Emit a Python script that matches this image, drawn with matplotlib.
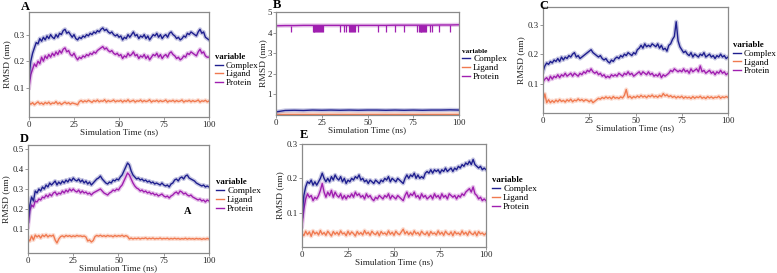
import numpy as np
import matplotlib
matplotlib.use("Agg")
import matplotlib.pyplot as plt
from matplotlib.lines import Line2D

plt.rcParams['font.family'] = ['Liberation Serif', 'DejaVu Serif']

series_names = ["Complex", "Ligand", "Protein"]
colors = {"Complex": "#1f1f8f", "Ligand": "#f07a50", "Protein": "#a01fb0"}
x_ticks = [0, 25, 50, 75, 100]

# ---------------- Panel A ----------------
a_complex = [0.14,0.20,0.23,0.25,0.27,0.265,0.285,0.275,0.29,0.28,0.295,0.285,0.30,0.29,0.285,0.30,0.29,0.305,0.30,0.315,
             0.32,0.305,0.31,0.30,0.29,0.30,0.285,0.28,0.29,0.285,0.295,0.29,0.30,0.295,0.305,0.30,0.31,0.305,0.315,0.31,
             0.32,0.325,0.315,0.32,0.31,0.305,0.31,0.30,0.295,0.30,0.29,0.295,0.28,0.29,0.285,0.30,0.29,0.30,0.31,0.295,
             0.30,0.285,0.295,0.29,0.30,0.285,0.295,0.28,0.29,0.30,0.295,0.305,0.29,0.30,0.285,0.295,0.30,0.29,0.305,0.31,
             0.30,0.295,0.285,0.29,0.28,0.285,0.295,0.29,0.305,0.30,0.31,0.305,0.30,0.295,0.31,0.32,0.305,0.31,0.29,0.285,0.28]
a_protein = [0.10,0.15,0.17,0.19,0.18,0.20,0.19,0.215,0.20,0.22,0.21,0.225,0.215,0.23,0.22,0.235,0.225,0.24,0.23,0.245,
             0.25,0.235,0.24,0.225,0.22,0.23,0.215,0.205,0.215,0.21,0.22,0.215,0.225,0.22,0.23,0.225,0.235,0.23,0.24,0.245,
             0.25,0.255,0.245,0.25,0.24,0.235,0.24,0.23,0.225,0.23,0.22,0.225,0.21,0.22,0.215,0.23,0.22,0.225,0.235,0.22,
             0.225,0.21,0.22,0.215,0.225,0.21,0.22,0.205,0.215,0.225,0.22,0.23,0.215,0.225,0.21,0.22,0.225,0.215,0.23,0.235,
             0.225,0.22,0.21,0.215,0.205,0.21,0.22,0.215,0.23,0.225,0.235,0.23,0.225,0.22,0.235,0.245,0.23,0.235,0.22,0.215,0.215]
a_ligand = [0.045,0.038,0.044,0.036,0.042,0.047,0.039,0.043,0.037,0.045,0.040,0.046,0.038,0.043,0.041,0.048,0.039,0.044,0.037,0.042,
            0.046,0.040,0.044,0.038,0.043,0.041,0.039,0.036,0.048,0.052,0.046,0.051,0.047,0.053,0.049,0.045,0.052,0.048,0.054,0.047,
            0.051,0.049,0.055,0.046,0.052,0.048,0.050,0.054,0.047,0.051,0.049,0.053,0.046,0.052,0.048,0.055,0.047,0.050,0.053,0.046,
            0.051,0.049,0.054,0.047,0.052,0.048,0.050,0.055,0.046,0.051,0.049,0.053,0.047,0.052,0.048,0.050,0.054,0.046,0.051,0.049,
            0.053,0.047,0.052,0.048,0.050,0.054,0.046,0.051,0.049,0.053,0.047,0.052,0.048,0.050,0.054,0.046,0.051,0.049,0.053,0.047,0.050]

# ---------------- Panel B ----------------
b_complex = [0.15,0.22,0.23,0.22,0.24,0.23,0.24,0.23,0.24,0.23,0.24,0.24,0.23,0.24,0.23,0.24,0.23,0.24,0.24,0.25,0.24]
b_ligand = [0.05,0.05,0.05,0.05,0.05,0.05,0.05,0.05,0.05,0.05,0.05,0.05,0.05,0.05,0.05,0.05,0.05,0.05,0.05,0.05,0.05]
b_protein = [4.33,4.34,4.34,4.35,4.35,4.35,4.35,4.35,4.35,4.35,4.35,4.35,4.35,4.36,4.36,4.36,4.36,4.36,4.37,4.37,4.38]
b_protein_dip_times = [8,20,20.5,21,21.5,22,22.5,23,23.5,24,24.5,25,25.5,35,37,38,40,40.5,41,41.5,42,42.5,43,45,
                       56,60,65,70,77,78,78.5,79,79.5,80,80.5,81,81.5,82,84,85,89,95]
b_protein_dip_low = 4.05

# ---------------- Panel C ----------------
c_complex = [0.14,0.16,0.17,0.165,0.175,0.17,0.18,0.175,0.185,0.175,0.19,0.18,0.19,0.185,0.195,0.19,0.2,0.205,0.19,0.195,
             0.185,0.19,0.195,0.2,0.205,0.21,0.215,0.205,0.2,0.195,0.19,0.195,0.185,0.18,0.185,0.175,0.17,0.18,0.175,0.185,
             0.19,0.185,0.195,0.19,0.2,0.195,0.205,0.2,0.195,0.205,0.2,0.215,0.22,0.23,0.22,0.235,0.225,0.23,0.225,0.235,
             0.23,0.225,0.235,0.22,0.23,0.215,0.22,0.21,0.23,0.235,0.25,0.26,0.31,0.245,0.225,0.215,0.205,0.21,0.2,0.195,
             0.205,0.19,0.2,0.195,0.19,0.2,0.195,0.205,0.19,0.195,0.2,0.19,0.195,0.185,0.195,0.19,0.2,0.19,0.195,0.185,0.19]
c_protein = [0.105,0.115,0.12,0.11,0.125,0.115,0.125,0.12,0.13,0.12,0.13,0.125,0.135,0.125,0.13,0.135,0.125,0.135,0.13,0.125,
             0.135,0.13,0.14,0.135,0.145,0.14,0.15,0.14,0.135,0.14,0.13,0.135,0.125,0.13,0.12,0.125,0.12,0.13,0.125,0.13,
             0.125,0.135,0.13,0.125,0.135,0.13,0.14,0.13,0.135,0.125,0.13,0.135,0.14,0.13,0.14,0.135,0.13,0.14,0.13,0.135,
             0.125,0.13,0.125,0.135,0.12,0.13,0.125,0.13,0.135,0.145,0.14,0.15,0.145,0.14,0.145,0.14,0.15,0.14,0.145,0.135,
             0.15,0.14,0.145,0.15,0.14,0.16,0.14,0.145,0.135,0.14,0.145,0.135,0.14,0.13,0.14,0.135,0.145,0.135,0.14,0.13,0.135]
c_ligand = [0.04,0.065,0.035,0.045,0.035,0.042,0.036,0.044,0.038,0.046,0.039,0.043,0.037,0.045,0.04,0.047,0.038,0.044,0.041,0.048,
            0.042,0.046,0.04,0.045,0.043,0.038,0.044,0.035,0.04,0.045,0.05,0.047,0.053,0.049,0.055,0.05,0.054,0.048,0.056,0.05,
            0.053,0.049,0.055,0.051,0.06,0.08,0.052,0.057,0.05,0.056,0.052,0.058,0.053,0.06,0.054,0.058,0.052,0.059,0.055,0.061,
            0.054,0.058,0.053,0.06,0.055,0.066,0.058,0.062,0.055,0.059,0.053,0.057,0.051,0.056,0.052,0.057,0.05,0.055,0.051,0.054,
            0.049,0.056,0.05,0.055,0.052,0.057,0.05,0.054,0.049,0.056,0.051,0.055,0.05,0.054,0.052,0.057,0.05,0.055,0.052,0.056,0.053]

# ---------------- Panel D ----------------
d_complex = [0.14,0.22,0.26,0.24,0.29,0.28,0.3,0.29,0.31,0.3,0.32,0.31,0.33,0.32,0.33,0.34,0.32,0.335,0.325,0.34,
             0.33,0.345,0.335,0.35,0.34,0.355,0.345,0.34,0.35,0.335,0.345,0.33,0.34,0.325,0.335,0.32,0.33,0.34,0.35,0.355,
             0.365,0.35,0.34,0.33,0.325,0.335,0.33,0.345,0.34,0.35,0.345,0.36,0.37,0.39,0.41,0.43,0.42,0.39,0.37,0.36,
             0.35,0.355,0.345,0.35,0.34,0.345,0.335,0.34,0.33,0.335,0.325,0.33,0.325,0.32,0.33,0.32,0.315,0.32,0.31,0.325,
             0.33,0.345,0.35,0.34,0.355,0.36,0.35,0.365,0.37,0.355,0.35,0.345,0.34,0.33,0.325,0.32,0.315,0.32,0.31,0.315,0.31]
d_protein = [0.11,0.19,0.22,0.21,0.24,0.235,0.25,0.245,0.26,0.255,0.27,0.26,0.275,0.265,0.28,0.285,0.27,0.28,0.275,0.29,
             0.28,0.295,0.285,0.3,0.29,0.3,0.29,0.285,0.295,0.28,0.29,0.28,0.285,0.275,0.28,0.27,0.28,0.285,0.29,0.295,
             0.3,0.29,0.28,0.275,0.27,0.28,0.285,0.295,0.29,0.3,0.295,0.31,0.32,0.34,0.36,0.38,0.37,0.35,0.33,0.315,
             0.305,0.3,0.29,0.295,0.285,0.29,0.28,0.285,0.275,0.28,0.27,0.275,0.265,0.27,0.275,0.265,0.26,0.265,0.255,0.265,
             0.27,0.28,0.285,0.275,0.29,0.285,0.275,0.28,0.27,0.265,0.27,0.26,0.255,0.25,0.245,0.25,0.24,0.245,0.235,0.245,0.24]
d_ligand = [0.05,0.04,0.065,0.045,0.07,0.06,0.068,0.055,0.07,0.062,0.072,0.06,0.068,0.064,0.07,0.045,0.03,0.05,0.062,0.066,
            0.06,0.068,0.063,0.067,0.061,0.066,0.062,0.068,0.064,0.066,0.062,0.065,0.06,0.04,0.045,0.035,0.042,0.062,0.068,0.064,
            0.069,0.063,0.067,0.062,0.068,0.064,0.066,0.061,0.068,0.063,0.067,0.064,0.069,0.062,0.067,0.063,0.05,0.055,0.05,0.054,
            0.051,0.055,0.05,0.054,0.052,0.056,0.05,0.054,0.051,0.055,0.05,0.053,0.051,0.055,0.05,0.053,0.051,0.054,0.049,0.053,
            0.05,0.054,0.05,0.053,0.049,0.052,0.05,0.054,0.049,0.053,0.05,0.052,0.049,0.053,0.05,0.052,0.048,0.052,0.049,0.053,0.05]

# ---------------- Panel E ----------------
e_complex = [0.09,0.15,0.175,0.19,0.185,0.195,0.18,0.19,0.18,0.19,0.2,0.215,0.2,0.19,0.2,0.19,0.205,0.195,0.21,0.2,
             0.195,0.205,0.19,0.2,0.185,0.195,0.19,0.2,0.195,0.205,0.2,0.21,0.195,0.2,0.19,0.195,0.185,0.195,0.19,0.185,
             0.195,0.19,0.185,0.195,0.19,0.2,0.195,0.205,0.19,0.2,0.195,0.19,0.2,0.195,0.19,0.185,0.2,0.21,0.2,0.21,
             0.205,0.215,0.2,0.21,0.2,0.205,0.2,0.215,0.22,0.215,0.225,0.215,0.225,0.22,0.225,0.215,0.225,0.22,0.23,0.22,
             0.225,0.23,0.22,0.23,0.225,0.235,0.23,0.24,0.235,0.245,0.24,0.25,0.24,0.255,0.24,0.235,0.23,0.235,0.225,0.23,0.225]
e_protein = [0.06,0.11,0.14,0.155,0.145,0.15,0.135,0.145,0.14,0.15,0.165,0.185,0.16,0.145,0.16,0.15,0.165,0.145,0.16,0.15,
             0.145,0.155,0.14,0.15,0.14,0.15,0.145,0.155,0.145,0.16,0.15,0.155,0.145,0.15,0.14,0.155,0.145,0.15,0.14,0.135,
             0.145,0.14,0.15,0.145,0.14,0.15,0.145,0.155,0.14,0.15,0.145,0.14,0.15,0.145,0.14,0.135,0.15,0.16,0.145,0.155,
             0.15,0.16,0.145,0.15,0.14,0.155,0.145,0.15,0.14,0.145,0.15,0.14,0.155,0.145,0.15,0.14,0.155,0.145,0.15,0.14,
             0.155,0.15,0.145,0.15,0.14,0.15,0.145,0.155,0.15,0.16,0.165,0.17,0.16,0.175,0.155,0.15,0.14,0.145,0.135,0.14,0.135]
e_ligand = [0.04,0.033,0.046,0.036,0.044,0.031,0.047,0.038,0.043,0.035,0.048,0.037,0.042,0.034,0.046,0.039,0.032,0.045,0.037,0.043,
            0.035,0.047,0.038,0.041,0.033,0.046,0.036,0.044,0.039,0.032,0.045,0.037,0.042,0.035,0.048,0.038,0.043,0.034,0.046,0.039,
            0.036,0.044,0.033,0.045,0.038,0.041,0.035,0.047,0.037,0.043,0.034,0.046,0.039,0.036,0.044,0.052,0.038,0.045,0.036,0.043,
            0.035,0.047,0.038,0.042,0.034,0.046,0.039,0.036,0.044,0.033,0.045,0.038,0.041,0.035,0.047,0.037,0.043,0.034,0.046,0.039,
            0.036,0.044,0.033,0.045,0.038,0.041,0.035,0.047,0.037,0.043,0.034,0.046,0.039,0.036,0.044,0.033,0.045,0.038,0.041,0.035,0.04]

panels = {
    "A": dict(data={"Complex": a_complex, "Ligand": a_ligand, "Protein": a_protein},
              rect=[29/777, 1-117/273, 180/777, 105/273], ylim=(-0.01, 0.385), yticks=[0.1, 0.2, 0.3],
              ylabels=["0.1", "0.2", "0.3"], letter=(21, 7), legend=(215, 53), lfs=6.4, tfs=6.2, ylpad=1.5),
    "B": dict(data={"Complex": b_complex, "Ligand": b_ligand, "Protein": b_protein},
              rect=[276/777, 1-115/273, 183/777, 103/273], ylim=(0.0, 4.95), yticks=[1, 2, 3, 4, 5],
              ylabels=["1", "2", "3", "4", "5"], letter=(273, 5), legend=(462, 49), lfs=6.7, tfs=5.2, ylpad=0.3),
    "C": dict(data={"Complex": c_complex, "Ligand": c_ligand, "Protein": c_protein},
              rect=[543/777, 1-113/273, 185/777, 106/273], ylim=(0.0, 0.36), yticks=[0.1, 0.2, 0.3],
              ylabels=["0.1", "0.2", "0.3"], letter=(539, 6), legend=(733, 41), lfs=6.5, tfs=6.3, ylpad=1.5),
    "D": dict(data={"Complex": d_complex, "Ligand": d_ligand, "Protein": d_protein},
              rect=[28/777, 1-253/273, 181/777, 108/273], ylim=(-0.02, 0.52), yticks=[0.1, 0.2, 0.3, 0.4, 0.5],
              ylabels=["0.1", "0.2", "0.3", "0.4", "0.5"], letter=(20, 139), legend=(216, 178), lfs=6.7, tfs=6.3, ylpad=1.5),
    "E": dict(data={"Complex": e_complex, "Ligand": e_ligand, "Protein": e_protein},
              rect=[302/777, 1-247/273, 184/777, 103/273], ylim=(0.0, 0.3), yticks=[0.1, 0.2, 0.3],
              ylabels=["0.1", "0.2", "0.3"], letter=(300, 135), legend=(492, 176), lfs=6.7, tfs=6.3, ylpad=1.5),
}

W, H = 777, 273
fig = plt.figure(figsize=(W/100, H/100), dpi=100)
fig.patch.set_facecolor("white")

for key, p in panels.items():
    ax = fig.add_axes(p["rect"])
    for name in ["Ligand", "Protein", "Complex"]:
        vals = np.asarray(p["data"][name])
        t = np.linspace(0, 100, len(vals))
        ax.plot(t, vals, color=colors[name], lw=3.0, alpha=0.25)
        ax.plot(t, vals, color=colors[name], lw=1.0)
    if key == "B":
        top = np.interp(b_protein_dip_times, np.linspace(0, 100, len(b_protein)), b_protein)
        ax.vlines(b_protein_dip_times, b_protein_dip_low, top, color=colors["Protein"], lw=0.9)
    ax.set_xlim(0, 100)
    ax.set_ylim(*p["ylim"])
    ax.set_xticks(x_ticks)
    ax.set_xticklabels([str(v) for v in x_ticks])
    ax.set_yticks(p["yticks"])
    ax.set_yticklabels(p["ylabels"])
    ax.tick_params(labelsize=6.3, length=2, width=0.6, color="#888888", pad=1, labelcolor="#222222")
    for s in ax.spines.values():
        s.set_color("#8a8a8a")
        s.set_linewidth(0.9)
    ax.set_xlabel("Simulation Time (ns)", fontsize=6.6, labelpad=-0.5, color="#222222")
    ax.set_ylabel("RMSD (nm)", fontsize=6.8, labelpad=p["ylpad"], color="#222222")
    lx, ly = p["letter"]
    fig.text(lx/W, 1-ly/H, key, fontsize=9, fontweight="bold", ha="left", va="center")
    handles = [Line2D([0], [0], color=colors[n], lw=1.0) for n in series_names]
    lgx, lgy = p["legend"]
    ax.legend(handles, series_names, loc="upper left", bbox_to_anchor=(lgx/W, 1-lgy/H),
              bbox_transform=fig.transFigure, frameon=False, fontsize=p["lfs"],
              title="variable", title_fontproperties={"weight": "bold", "size": p["tfs"]},
              handlelength=0.9, handletextpad=0.3, labelspacing=0.05, borderpad=0, borderaxespad=0,
              alignment="left")

# stray annotation letter inside panel D
fig.text(188/W, 1-211/H, "A", fontsize=7.5, fontweight="bold", ha="center", va="center")

fig.savefig("out.png", dpi=100, facecolor="white")
